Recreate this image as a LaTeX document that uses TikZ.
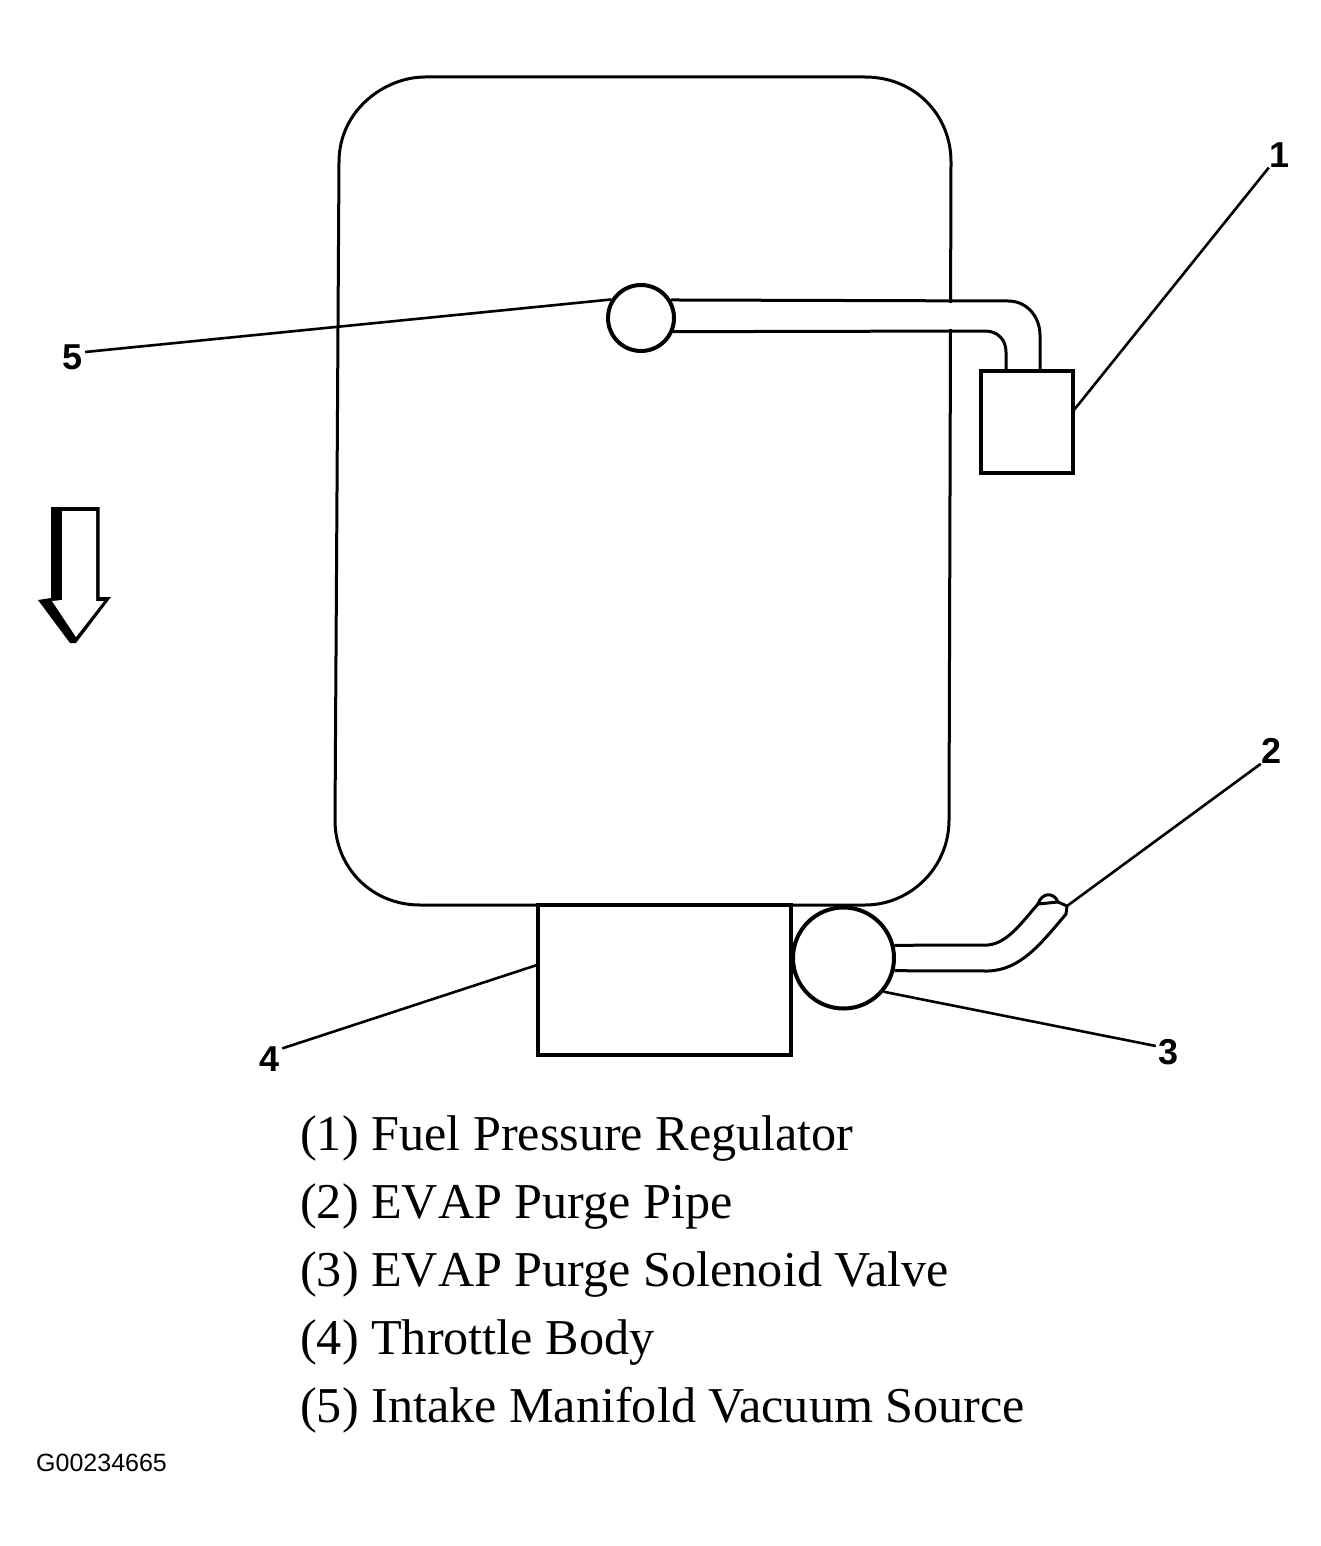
\documentclass[tikz,border=0pt]{standalone}
\usepackage{fontspec}
\setmainfont{Liberation Serif}
\newfontfamily\labfont{Liberation Sans}
\newfontfamily\nokern[Kerning=Off]{Liberation Serif}
\begin{document}
\begin{tikzpicture}[x=1pt,y=-1pt,
  thinline/.style={line width=3pt,draw=black,line join=round},
  leader/.style={line width=2.6pt,draw=black},
  partbox/.style={draw=black,line width=4.5pt,fill=white,rectangle,inner sep=0pt},
  partcircle/.style={draw=black,line width=4pt,fill=white,circle,inner sep=0pt},
  numlabel/.style={font=\labfont\bfseries\fontsize{36}{36}\selectfont,inner sep=0pt,text=black},
  legend/.style={font=\fontsize{50.2}{50.2}\selectfont,anchor=base west,inner sep=0pt,text=black},
  figcode/.style={font=\labfont\fontsize{25}{25}\selectfont,anchor=base west,inner sep=0pt,text=black}]
\useasboundingbox (0,0) rectangle (1321,1546);
% manifold body
\draw[thinline] (339,162) .. controls (339,110) and (385,77) .. (425,77)
  -- (865,77) .. controls (915,77) and (951,115) .. (951,162)
  -- (949,820) .. controls (949,868) and (910,905) .. (865,905)
  -- (420,905) .. controls (372,905) and (335,868) .. (335,820) -- cycle;
% pipe white interior hides body line
\fill[white] (660,303) rectangle (1000,329);
\node[partbox,minimum width=92pt,minimum height=102pt] (box1) at (1027,422) {};
\node[partbox,minimum width=253pt,minimum height=150pt] (box4) at (664.5,980) {};
\node[partcircle,minimum size=66pt] (c5) at (641,318) {};
\node[partcircle,minimum size=101pt] (c3) at (843.5,958) {};
% upper pipe
\draw[thinline] (c5.31) -- (1008,301) .. controls (1028,301) and (1040,318) .. (1040,335) -- (1040,369);
\draw[thinline] (c5.-23) -- (985,331) .. controls (998,331) and (1006,340) .. (1006,352) -- (1006,369);
% purge pipe
\coordinate (pipeend) at (1067,906);
\draw[thinline] (c3.14) -- (988,945) .. controls (1008,943) and (1022,922) .. (1038,904);
\draw[thinline] (c3.-14) -- (988,971) .. controls (1020,970) and (1040,945) .. (1066,914) -- (pipeend) -- (1058,902);
\draw[thinline] (1038,904) .. controls (1042,892) and (1054,892) .. (1058,902) -- cycle;
% labels
\node[numlabel] (lab1) at (1279,155) {1};
\node[numlabel] (lab2) at (1271,751) {2};
\node[numlabel] (lab3) at (1168,1052) {3};
\node[numlabel] (lab4) at (270,1059) {4};
\node[numlabel] (lab5) at (73,357) {5};
% leaders
\coordinate (lead1) at (1074,410);
\coordinate (lead4) at (537,965);
\draw[leader] (lab1.south west) -- (lead1);
\draw[leader] (lab2.south west) -- (pipeend);
\draw[leader] (lab3.west) ++(-2,-6) -- (c3.-40);
\draw[leader] (lab4.north east) ++(2,2) -- (lead4);
\draw[leader] (lab5.east) ++(2,-5) -- (c5.148);
% flow arrow
\fill[black] (51,507) -- (99.5,507) -- (99.5,597) -- (111,597) -- (76,643) -- (70,643) -- (38,600) -- (51,598) -- cycle;
\fill[white] (62,511) -- (96,511) -- (96,601) -- (104,601) -- (76,637) -- (52,601) -- (62,600) -- cycle;
% legend
\node[legend] (t1) at (300,1150) {(1) Fuel Pressure Regulator};
\node[legend] (t2) at (300,1218) {(2) {\nokern EVAP} Purge Pipe};
\node[legend] (t3) at (300,1286) {(3) {\nokern EVAP} Purge Solenoid Valve};
\node[legend] (t4) at (300,1354) {(4) Throttle Body};
\node[legend] (t5) at (300,1422) {(5) Intake Manifold Vacuum Source};
\node[figcode] (code) at (36,1471) {G00234665};
\end{tikzpicture}
\end{document}
